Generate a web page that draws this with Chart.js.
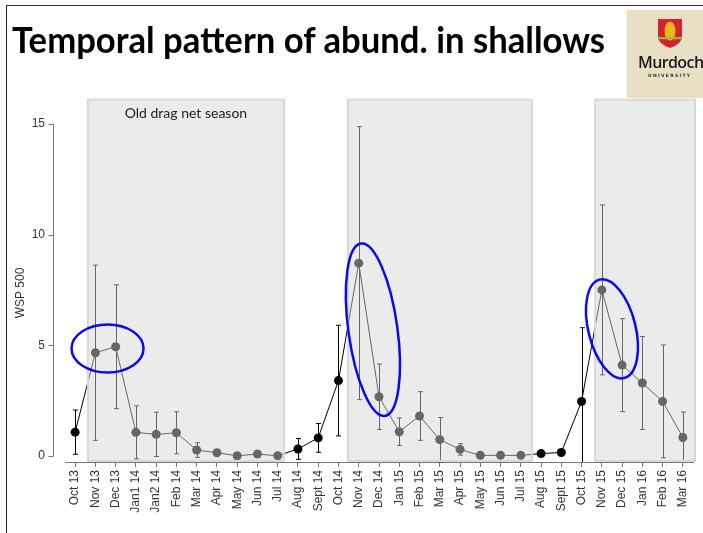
<!DOCTYPE html>
<html>
<head>
<meta charset="utf-8">
<script src="https://cdn.jsdelivr.net/npm/chart.js@4"></script>
<style>
  body { margin: 0; background: #fff; overflow: hidden; }
  #slide { position: relative; width: 703px; height: 533px; }
  #frame { position: absolute; left: 6px; top: 5px; right: -4px; bottom: -4px; border-top: 1.5px solid #333; border-left: 1.5px solid #222; }
  #title { position: absolute; left: 12px; top: 17px; font-family: Lato, sans-serif; font-weight: bold; font-size: 36px; color: #000; white-space: nowrap; transform-origin: 0 0; }
  #logo { position: absolute; left: 627px; top: 10px; width: 76px; height: 88px; background: #e9dfc5; }
  #logo .name { position: absolute; left: 11px; top: 41px; font-family: "Open Sans", sans-serif; font-weight: 600; font-size: 16px; letter-spacing: -0.6px; color: #1a1a1a; }
  #logo .uni { position: absolute; left: 21px; top: 63px; font-family: "DejaVu Sans", sans-serif; font-weight: bold; font-size: 4.5px; letter-spacing: 1.3px; color: #333; }
  canvas { position: absolute; left: 0; top: 0; }
</style>
</head>
<body>
<div id="slide">
  <canvas id="chart" width="703" height="533"></canvas>
  <div id="frame"></div>
  <div id="title">Temporal pattern of abund. in shallows</div>
  <div id="logo">
    <svg width="76" height="45" style="position:absolute;left:0;top:0">
      <path d="M31 9 H55 V26 Q55 34 43 38 Q31 34 31 26 Z" fill="#d42330"/>
      <ellipse cx="43" cy="21" rx="5.5" ry="9.5" fill="#f2b31b"/>
      <rect x="31" y="27" width="24" height="2.2" fill="#8cbf3f"/>
    </svg>
    <div class="name">Murdoch</div>
    <div class="uni">UNIVERSITY</div>
  </div>
</div>
<script>
// sampling months
const months = ['Oct 13', 'Nov 13', 'Dec 13', 'Jan1 14', 'Jan2 14', 'Feb 14', 'Mar 14', 'Apr 14', 'May 14', 'Jun 14', 'Jul 14',
  'Aug 14', 'Sept 14', 'Oct 14', 'Nov 14', 'Dec 14', 'Jan 15', 'Feb 15', 'Mar 15', 'Apr 15', 'May 15', 'Jun 15', 'Jul 15',
  'Aug 15', 'Sept 15', 'Oct 15', 'Nov 15', 'Dec 15', 'Jan 16', 'Feb 16', 'Mar 16'];

// mean abundance and error for each month
const means = [1.07, 4.66, 4.93, 1.06, 0.97, 1.04, 0.26, 0.14, 0.0, 0.08, 0.0,
  0.31, 0.81, 3.4, 8.71, 2.67, 1.09, 1.8, 0.73, 0.29, 0.02, 0.02, 0.02,
  0.1, 0.15, 2.46, 7.5, 4.1, 3.29, 2.46, 0.83];
const errors = [1.0, 3.96, 2.8, 1.2, 1.0, 0.95, 0.33, 0, 0, 0, 0,
  0.47, 0.65, 2.5, 6.17, 1.48, 0.62, 1.1, 1.0, 0.26, 0, 0, 0,
  0, 0, 3.33, 3.84, 2.1, 2.1, 2.55, 1.15];

const yTicks = [0, 5, 10, 15];

// drag net seasons as [from, to] in month index units
const seasons = [[0.63, 10.31], [13.47, 22.55], [25.67, 30.6]];
const seasonLabel = 'Old drag net season';

// highlighted peaks: centre (month index, value), radii px, rotation
const highlights = [
  { at: [1.6, 4.85], rx: 36, ry: 24, rot: 0 },
  { at: [14.7, 5.7], rx: 24.5, ry: 87, rot: -0.138 },
  { at: [26.5, 5.74], rx: 23.6, ry: 50.7, rot: -0.246 }
];

// fit the heading into its line
const title = document.getElementById('title');
title.style.transform = 'scaleX(' + (593 / title.getBoundingClientRect().width) + ')';

const axisFont = { family: 'Liberation Sans, Arial', size: 12 };

const errorBars = {
  id: 'errorBars',
  beforeDatasetsDraw(chart) {
    const { ctx, chartArea, scales: { x, y } } = chart;
    ctx.save();
    ctx.strokeStyle = '#000';
    ctx.lineWidth = 1;
    errors.forEach((e, i) => {
      if (!e) return;
      const px = Math.round(x.getPixelForValue(i)) + 0.5;
      const top = y.getPixelForValue(means[i] + e);
      let bot = y.getPixelForValue(means[i] - e);
      const clipped = bot > chartArea.bottom;
      if (clipped) bot = chartArea.bottom;
      ctx.beginPath();
      ctx.moveTo(px, top);
      ctx.lineTo(px, bot);
      ctx.moveTo(px - 2.5, top);
      ctx.lineTo(px + 2.5, top);
      if (!clipped) {
        ctx.moveTo(px - 2.5, bot);
        ctx.lineTo(px + 2.5, bot);
      }
      ctx.stroke();
    });
    ctx.restore();
  }
};

// axis line for y, set apart from the plot like the original software draws it
const yAxisLine = {
  id: 'yAxisLine',
  afterDraw(chart) {
    const { ctx, chartArea, scales: { y } } = chart;
    const ax = chartArea.left - 12 + 0.5;
    ctx.save();
    ctx.strokeStyle = '#777';
    ctx.lineWidth = 1;
    ctx.beginPath();
    ctx.moveTo(ax, y.getPixelForValue(yTicks[yTicks.length - 1]));
    ctx.lineTo(ax, y.getPixelForValue(0));
    yTicks.forEach(t => {
      const py = Math.round(y.getPixelForValue(t)) + 0.5;
      ctx.moveTo(ax - 5, py);
      ctx.lineTo(ax, py);
    });
    ctx.stroke();
    ctx.restore();
  }
};

const seasonBoxes = {
  id: 'seasonBoxes',
  afterDatasetsDraw(chart) {
    const { ctx, chartArea, scales: { x, y } } = chart;
    const top = y.getPixelForValue(16.1);
    const bot = chartArea.bottom - 1;
    ctx.save();
    seasons.forEach(([a, b]) => {
      const l = x.getPixelForValue(a), r = x.getPixelForValue(b);
      ctx.fillStyle = 'rgba(213,213,213,0.48)';
      ctx.fillRect(l, top, r - l, bot - top);
      ctx.strokeStyle = '#d9d9d9';
      ctx.lineWidth = 2;
      ctx.strokeRect(l, top, r - l, bot - top);
    });
    const [a, b] = seasons[0];
    ctx.fillStyle = '#222';
    ctx.font = '14px Lato, sans-serif';
    ctx.textAlign = 'center';
    ctx.textBaseline = 'middle';
    ctx.fillText(seasonLabel, (x.getPixelForValue(a) + x.getPixelForValue(b)) / 2, top + 14);

    ctx.strokeStyle = '#0a0af0';
    ctx.lineWidth = 2.5;
    highlights.forEach(h => {
      ctx.beginPath();
      ctx.ellipse(x.getPixelForValue(h.at[0]), y.getPixelForValue(h.at[1]), h.rx, h.ry, h.rot, 0, Math.PI * 2);
      ctx.stroke();
    });
    ctx.restore();
  }
};

new Chart(document.getElementById('chart'), {
  type: 'line',
  data: {
    labels: months,
    datasets: [{
      data: means,
      borderColor: '#000',
      borderWidth: 1,
      pointBackgroundColor: '#000',
      pointBorderWidth: 0,
      pointRadius: 4.5,
      tension: 0
    }]
  },
  options: {
    responsive: false,
    animation: false,
    devicePixelRatio: 1,
    layout: { padding: { left: 10, top: 124, right: 10, bottom: 0 } },
    plugins: { legend: { display: false }, tooltip: { enabled: false } },
    scales: {
      x: {
        type: 'category',
        offset: true,
        grid: { drawOnChartArea: false, tickLength: 5, color: '#777' },
        border: { color: '#777' },
        ticks: { autoSkip: false, minRotation: 90, maxRotation: 90, padding: 3, color: '#333', font: axisFont },
        afterFit(s) { s.height = 71; }
      },
      y: {
        min: -0.28,
        max: 15,
        grid: { display: false, drawTicks: false },
        border: { display: false },
        afterBuildTicks(s) { s.ticks = yTicks.map(v => ({ value: v })); },
        ticks: { padding: 20, color: '#333', font: axisFont },
        title: { display: true, text: 'WSP 500', padding: { top: 3, bottom: 0 }, color: '#333', font: axisFont },
        afterFit(s) { s.width = 55; }
      }
    }
  },
  plugins: [errorBars, seasonBoxes, yAxisLine]
});
</script>
</body>
</html>
